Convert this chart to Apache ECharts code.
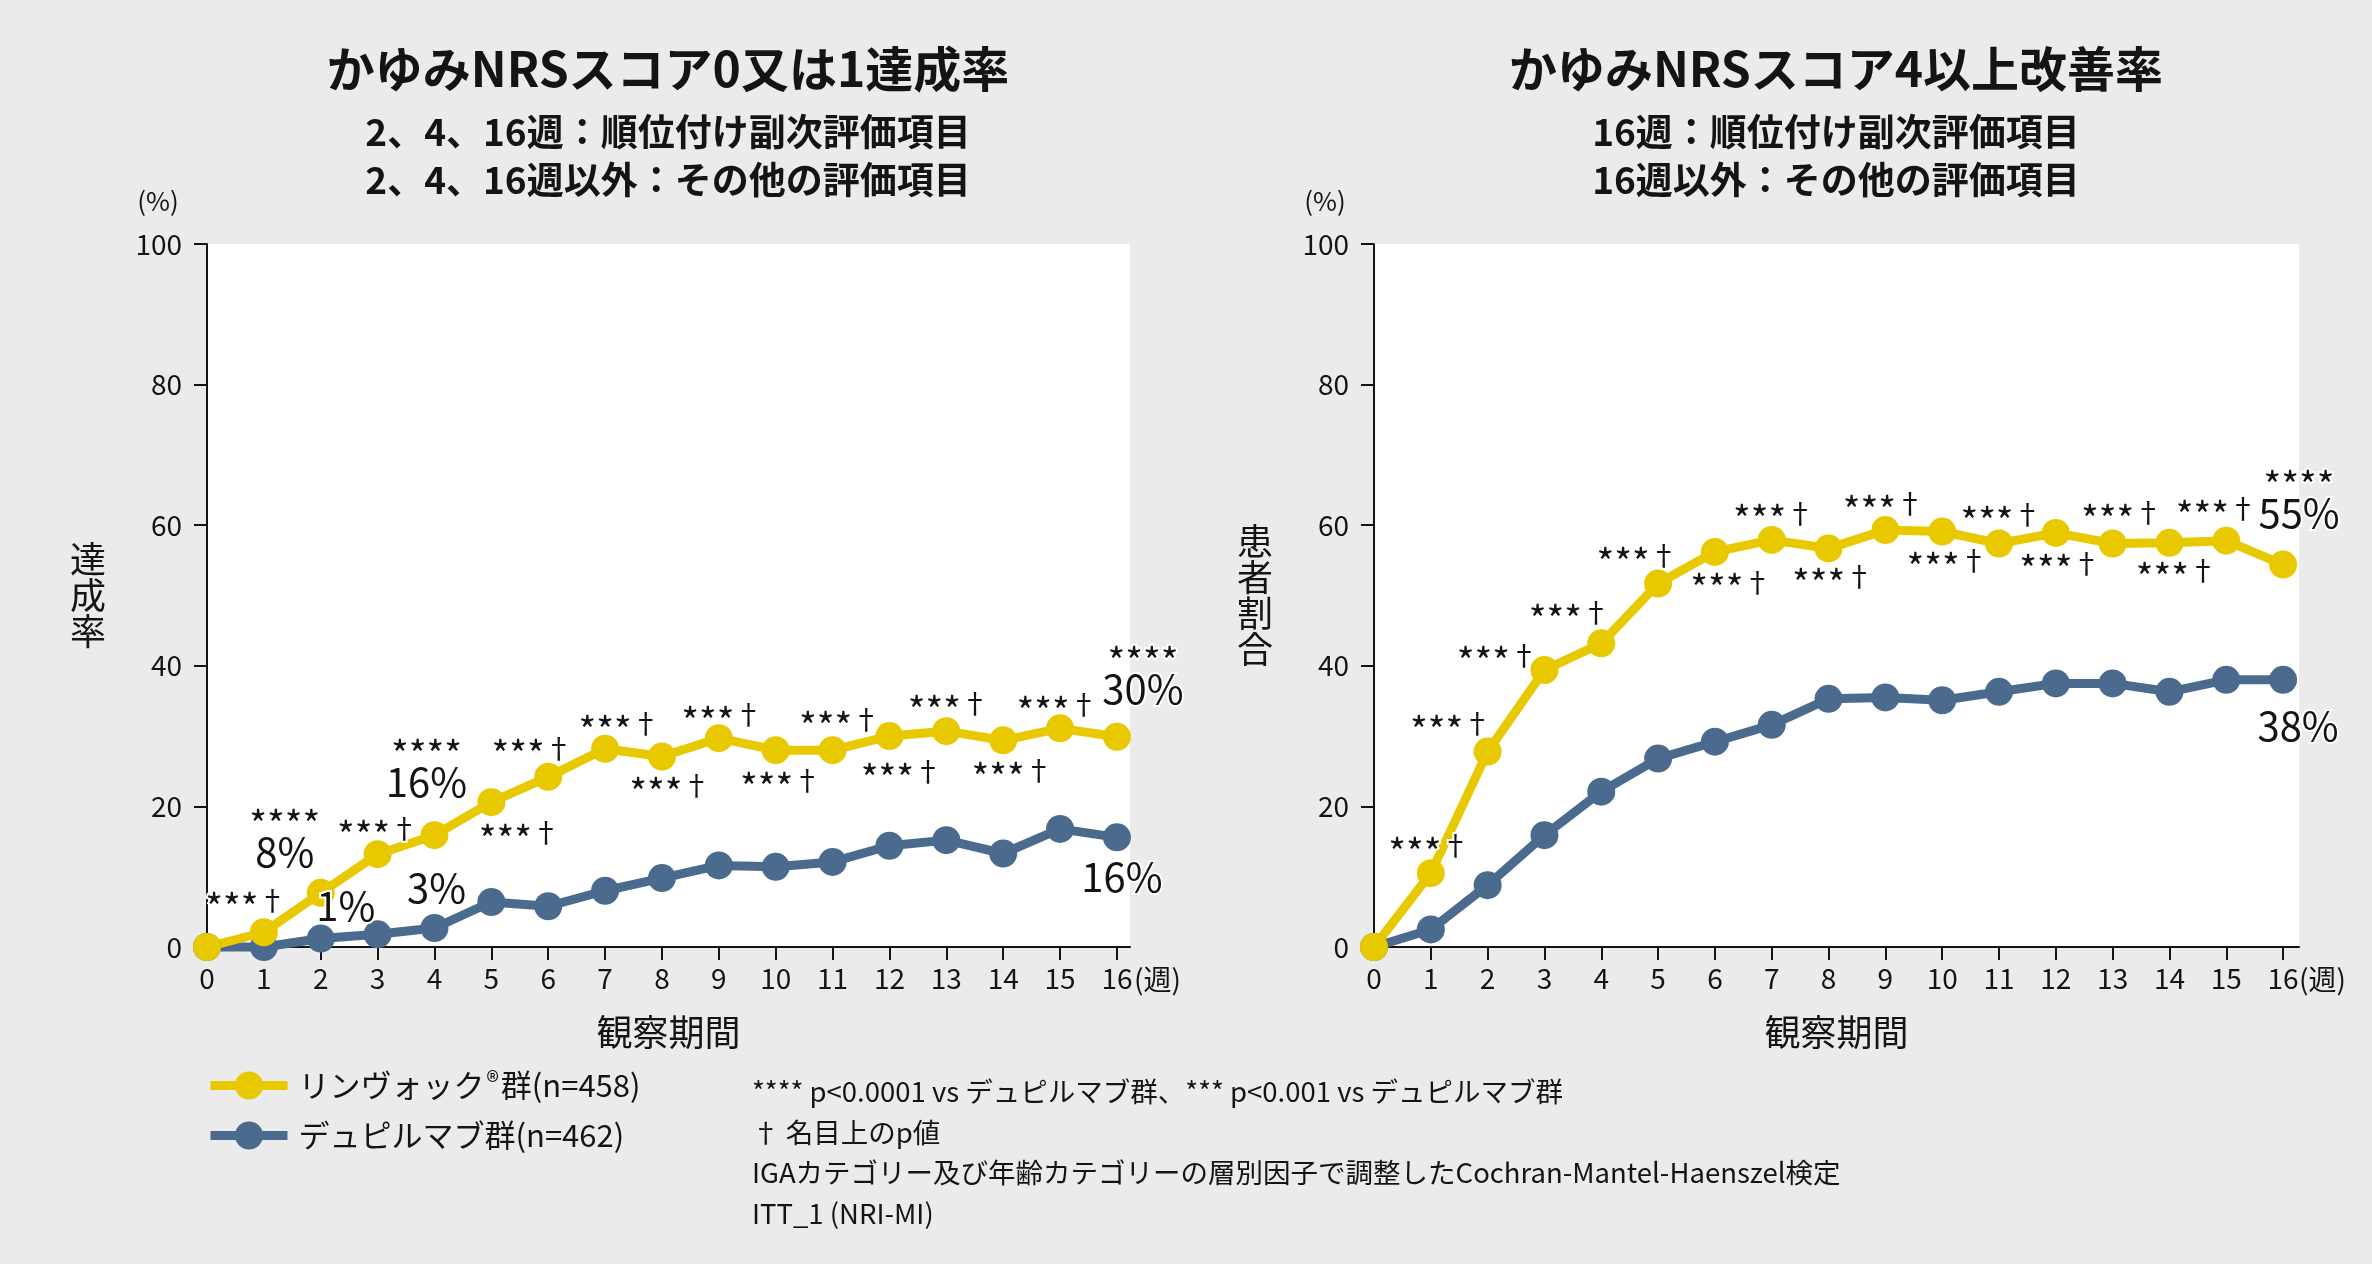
<!DOCTYPE html>
<html>
<head>
<meta charset="utf-8">
<script src="https://cdn.jsdelivr.net/npm/echarts@6/dist/echarts.min.js"></script>
<style>
html, body { margin: 0; padding: 0; background: #ebebeb; }
#main { width: 2372px; height: 1264px; }
</style>
</head>
<body>
<div id="main"></div>
<script>
// データ
var weeks = [0, 1, 2, 3, 4, 5, 6, 7, 8, 9, 10, 11, 12, 13, 14, 15, 16];
var nrs01Rinvoq = [0, 2.1, 7.7, 13.2, 15.9, 20.6, 24.2, 28.2, 27.1, 29.7, 28.0, 28.0, 30.0, 30.7, 29.4, 31.1, 29.9];
var nrs01Dupi = [0, 0, 1.2, 1.8, 2.7, 6.4, 5.8, 8.0, 9.8, 11.6, 11.4, 12.1, 14.4, 15.2, 13.3, 16.8, 15.6];
var nrs4Rinvoq = [0, 10.5, 27.8, 39.4, 43.2, 51.7, 56.2, 57.9, 56.7, 59.3, 59.1, 57.4, 58.9, 57.4, 57.5, 57.8, 54.4];
var nrs4Dupi = [0, 2.5, 8.8, 15.9, 22.1, 26.8, 29.2, 31.6, 35.3, 35.5, 35.1, 36.3, 37.5, 37.5, 36.3, 38.0, 38.0];

var nrs01Sig = ['', '***†', '****', '***†', '****', '***†', '***†', '***†', '***†', '***†', '***†', '***†', '***†', '***†', '***†', '***†', '****'];
var nrs01RinvoqPct = ['', '', '8%', '', '16%', '', '', '', '', '', '', '', '', '', '', '', '30%'];
var nrs01DupiPct = ['', '', '1%', '', '3%', '', '', '', '', '', '', '', '', '', '', '', '16%'];
var nrs4Sig = ['', '***†', '***†', '***†', '***†', '***†', '***†', '***†', '***†', '***†', '***†', '***†', '***†', '***†', '***†', '***†', '****'];
var nrs4RinvoqPct = ['', '', '', '', '', '', '', '', '', '', '', '', '', '', '', '', '55%'];
var nrs4DupiPct = ['', '', '', '', '', '', '', '', '', '', '', '', '', '', '', '', '38%'];

var nameRinvoq = 'リンヴォック®群(n=458)';
var nameDupi = 'デュピルマブ群(n=462)';
var weekUnit = '(週)';

var footnotes = [
	'**** p<0.0001 vs デュピルマブ群、*** p<0.001 vs デュピルマブ群',
	'† 名目上のp値',
	'IGAカテゴリー及び年齢カテゴリーの層別因子で調整したCochran-Mantel-Haenszel検定',
	'ITT_1 (NRI-MI)'
];

// ラベルの位置（点からのずれ）
var offLeftY = [[0,0],[-18,-32],[-36,-61],[0,-26],[-8,-73],[28,30],[-16,-29],[14,-25],[8,29],[3,-24],[5,30],[7,-31],[12,35],[2,-28],[9,30],[-3,-24],[26,-68]];
var offLeftB = {2: [25,-33], 4: [2,-40], 16: [5,39]};
var offRightY = [[0,0],[-2,-28],[-37,-28],[-47,-15],[-32,-31],[-21,-28],[16,30],[2,-27],[4,28],[-2,-27],[5,29],[2,-29],[4,30],[9,-31],[7,28],[-10,-32],[16,-72]];
var offRightB = {16: [15,46]};

var FONT = '"Noto Sans CJK JP", "Noto Sans", sans-serif';
var YELLOW = '#e8c900';
var BLUE = '#4a6a8e';
var INK = '#141414';

var labelRich = {
	s: { fontSize: 38, lineHeight: 40, padding: [14, 0, 0, 0], color: INK, fontFamily: FONT },
	d: { fontSize: 28, lineHeight: 40, color: INK, fontFamily: FONT },
	p: { fontSize: 40, lineHeight: 29, color: INK, fontFamily: FONT }
};

function sigText(s) {
	var stars = s.replace('†', '');
	return '{s|' + stars + '}' + (s.indexOf('†') >= 0 ? '{d|†}' : '');
}

function buildData(vals, sig, pct, off) {
	return vals.map(function (v, i) {
		var s = sig ? sig[i] : '';
		var p = pct[i];
		var item = { value: [weeks[i], v] };
		var o = off[i];
		if ((s || p) && o) {
			var txt = [];
			if (s) txt.push(sigText(s));
			if (p) txt.push('{p|' + p + '}');
			item.label = {
				show: true,
				position: 'inside',
				offset: o,
				formatter: txt.join('\n'),
				rich: labelRich,
				textBorderColor: '#fff',
				textBorderWidth: 4
			};
		}
		return item;
	});
}

function lineSeries(name, color, xi, data) {
	return {
		name: name,
		type: 'line',
		xAxisIndex: xi,
		yAxisIndex: xi,
		clip: false,
		symbol: 'circle',
		symbolSize: 28,
		color: color,
		lineStyle: { width: 9, color: color },
		itemStyle: { color: color },
		label: { show: false },
		emphasis: { disabled: true },
		data: data
	};
}

function xAxisOf(gi, max) {
	return {
		type: 'value',
		gridIndex: gi,
		min: 0,
		max: max,
		name: '観察期間',
		nameLocation: 'middle',
		nameGap: 85,
		nameTextStyle: { fontSize: 36, color: INK, fontFamily: FONT, verticalAlign: 'middle' },
		splitLine: { show: false },
		axisLine: { onZero: false, lineStyle: { color: INK, width: 2 } },
		axisTick: { customValues: weeks, length: 13, lineStyle: { color: INK, width: 2 } },
		axisLabel: {
			customValues: weeks,
			hideOverlap: false,
			showMaxLabel: true,
			margin: 17,
			fontSize: 28,
			lineHeight: 28,
			color: INK,
			fontFamily: FONT
		}
	};
}

function yAxisOf(gi, name) {
	return {
		type: 'value',
		gridIndex: gi,
		min: 0,
		max: 100,
		interval: 20,
		name: name.split('').join('\n'),
		nameLocation: 'middle',
		nameRotate: 0,
		nameGap: 119,
		nameTextStyle: { fontSize: 36, lineHeight: 36, color: INK, fontFamily: FONT, align: 'center', verticalAlign: 'middle' },
		splitLine: { show: false },
		axisLine: { show: true, lineStyle: { color: INK, width: 2 } },
		axisTick: { show: true, length: 13, lineStyle: { color: INK, width: 2 } },
		axisLabel: { margin: 25, fontSize: 28, color: INK, fontFamily: FONT }
	};
}

function textEl(x, y, text, size, weight, align) {
	return {
		type: 'text',
		x: x,
		y: y,
		style: {
			text: text,
			fill: INK,
			fontSize: size,
			fontWeight: weight || 'normal',
			fontFamily: FONT,
			align: align || 'center',
			verticalAlign: 'middle'
		}
	};
}

var chart = echarts.init(document.getElementById('main'));
var option = {
	backgroundColor: '#ebebeb',
	animation: false,
	grid: [
		{ left: 207, top: 244, width: 923, height: 703, show: true, backgroundColor: '#fff', borderWidth: 0 },
		{ left: 1374, top: 244, width: 925, height: 703, show: true, backgroundColor: '#fff', borderWidth: 0 }
	],
	xAxis: [xAxisOf(0, 16.23), xAxisOf(1, 16.28)],
	yAxis: [yAxisOf(0, '達成率'), yAxisOf(1, '患者割合')],
	legend: {
		data: [nameRinvoq, nameDupi],
		orient: 'vertical',
		left: 206,
		top: 1068,
		padding: 0,
		itemWidth: 77,
		itemHeight: 35,
		itemGap: 15,
		lineStyle: { width: 9 },
		textStyle: {
			fontSize: 31,
			lineHeight: 35,
			color: INK,
			fontFamily: FONT,
			padding: [0, 0, 0, 6],
			rich: {
				sup: { fontSize: 26, color: INK, fontFamily: FONT, verticalAlign: 'top', lineHeight: 22, padding: [0, 2, 0, 2] }
			}
		},
		formatter: function (n) { return n.replace('®', '{sup|®}'); }
	},
	graphic: [
		textEl(668, 69, 'かゆみNRSスコア0又は1達成率', 48, 'bold'),
		textEl(668, 132, '2、4、16週：順位付け副次評価項目', 37, 'bold'),
		textEl(668, 180, '2、4、16週以外：その他の評価項目', 37, 'bold'),
		textEl(1836, 69, 'かゆみNRSスコア4以上改善率', 48, 'bold'),
		textEl(1836, 132, '16週：順位付け副次評価項目', 37, 'bold'),
		textEl(1836, 180, '16週以外：その他の評価項目', 37, 'bold'),
		textEl(158, 201, '(%)', 26),
		textEl(1325, 201, '(%)', 26),
		textEl(1134, 979, weekUnit, 28, 'normal', 'left'),
		textEl(2299, 979, weekUnit, 28, 'normal', 'left'),
		{
			type: 'text',
			left: 752,
			top: 1071,
			style: { text: footnotes.join('\n'), fill: INK, fontSize: 27.5, lineHeight: 40.7, fontFamily: FONT }
		}
	],
	series: [
		lineSeries(nameDupi, BLUE, 0, buildData(nrs01Dupi, null, nrs01DupiPct, offLeftB)),
		lineSeries(nameRinvoq, YELLOW, 0, buildData(nrs01Rinvoq, nrs01Sig, nrs01RinvoqPct, offLeftY)),
		lineSeries(nameDupi, BLUE, 1, buildData(nrs4Dupi, null, nrs4DupiPct, offRightB)),
		lineSeries(nameRinvoq, YELLOW, 1, buildData(nrs4Rinvoq, nrs4Sig, nrs4RinvoqPct, offRightY))
	]
};
chart.setOption(option);
</script>
</body>
</html>
